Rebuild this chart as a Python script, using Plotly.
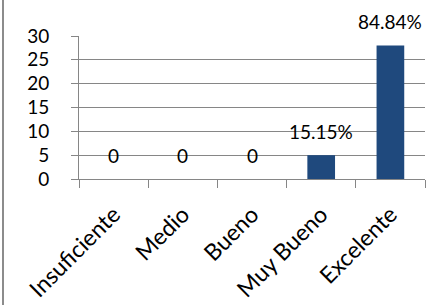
import plotly.graph_objects as go

categories = ["Insuficiente", "Medio", "Bueno", "Muy Bueno", "Excelente"]
values = [0, 0, 0, 5, 28]
labels = ["0", "0", "0", "15.15%", "84.84%"]
y_ticks = [0, 5, 10, 15, 20, 25, 30]

FONT = "Lato"
GRID = "#868686"

fig = go.Figure()
fig.add_trace(go.Bar(
    x=categories, y=values,
    marker=dict(color="#1F497D", line=dict(width=0)),
    width=0.4,
    hoverinfo="skip",
))

annotations = [
    dict(x=c, y=v, text=t, showarrow=False, xref="x", yref="y",
         yshift=24, yanchor="middle", xanchor="center",
         font=dict(family=FONT, size=19, color="#000"))
    for c, v, t in zip(categories, values, labels)
]

L, R, T, B = 79, 15, 36, 126
pw = 440 - L - R
fig.update_layout(
    width=440, height=305,
    margin=dict(l=L, r=R, t=T, b=B, pad=0, autoexpand=False),
    paper_bgcolor="white", plot_bgcolor="white",
    showlegend=False,
    annotations=annotations,
    font=dict(family=FONT, size=19, color="#000"),
    shapes=[dict(type="line", xref="paper", yref="paper",
                 x0=(3 - L) / pw, x1=(3 - L) / pw, y0=-2, y1=2,
                 line=dict(color="#8c8c8c", width=2))],
)
fig.update_xaxes(
    type="category", tickson="boundaries", automargin=False,
    showline=True, linecolor=GRID, linewidth=1,
    ticks="outside", ticklen=8, tickcolor=GRID,
    tickangle=-45, showgrid=False,
    tickfont=dict(family=FONT, size=23, color="#000"),
    ticklabelstandoff=12,
)
fig.update_yaxes(
    range=[0, 30], tickvals=y_ticks, automargin=False,
    showline=True, linecolor=GRID, linewidth=1,
    ticks="outside", ticklen=7, tickcolor=GRID,
    showgrid=True, gridcolor=GRID, gridwidth=1,
    zeroline=False,
    tickfont=dict(family=FONT, size=19, color="#000"),
    ticklabelstandoff=18,
)
fig.write_html(
    "out.html",
    config={"displayModeBar": False},
    post_script="document.body.style.margin='0';document.body.style.padding='0';",
)
